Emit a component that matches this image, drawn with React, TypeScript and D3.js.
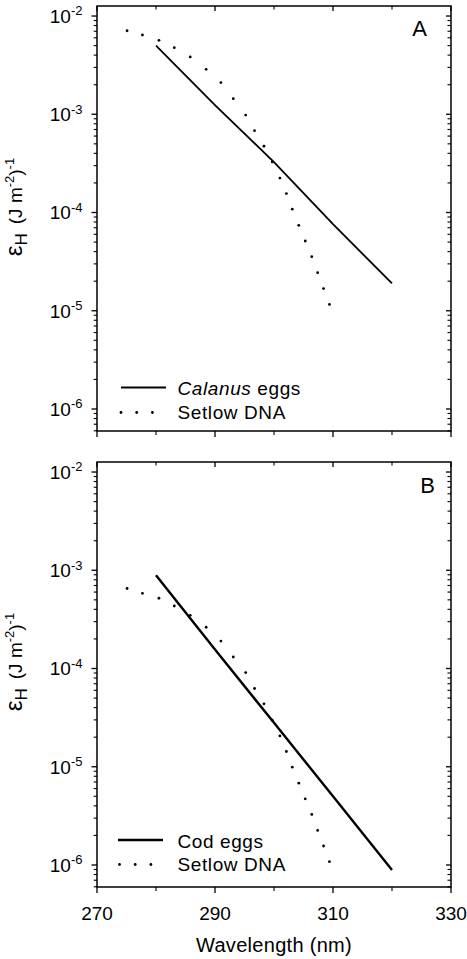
import React from 'react';
import * as d3 from 'd3';

// ---- data ----
const xMajorTicks = [270, 290, 310, 330];
const xMinorTicks = [280, 300, 320];
const yDecadeExps = [-6, -5, -4, -3, -2];

const calanusWl = [280, 290, 300, 310, 320];
const calanusEps = [5.0e-3, 1.24e-3, 3.26e-4, 7.6e-5, 1.9e-5];

const codWl = [280, 290, 300, 310, 320];
const codEps = [8.9e-4, 1.56e-4, 2.8e-5, 5.0e-6, 8.9e-7];

const setlowWl = [275.1, 277.7, 280.5, 283.1, 285.8, 288.5, 291.0, 293.1, 295.2, 296.7, 298.3,
  299.7, 301.0, 302.1, 303.1, 304.2, 305.3, 306.4, 307.4, 308.4, 309.4];
const setlowTopEps = [7.08e-3, 6.41e-3, 5.66e-3, 4.76e-3, 3.83e-3, 2.87e-3, 2.10e-3, 1.44e-3,
  9.82e-4, 6.80e-4, 4.73e-4, 3.27e-4, 2.24e-4, 1.56e-4, 1.08e-4, 7.41e-5, 5.13e-5, 3.55e-5,
  2.44e-5, 1.68e-5, 1.16e-5];
const setlowBottomEps = [6.52e-4, 5.83e-4, 5.19e-4, 4.33e-4, 3.48e-4, 2.63e-4, 1.90e-4, 1.31e-4,
  9.10e-5, 6.26e-5, 4.37e-5, 2.98e-5, 2.06e-5, 1.43e-5, 9.91e-6, 6.81e-6, 4.71e-6, 3.27e-6,
  2.25e-6, 1.56e-6, 1.08e-6];

// ---- layout ----
const W = 467;
const H = 959;
const LEFT = 97;
const RIGHT = 451;
const PANEL_H = 425;
const FONT = 'Liberation Sans, Arial, Helvetica, sans-serif';
const INK = '#000';

const x = d3.scaleLinear().domain([270, 330]).range([LEFT, RIGHT]);

type PanelProps = {
  top: number;
  letter: string;
  letterX: number;
  letterDy: number;
  lineWl: number[];
  lineEps: number[];
  lineWidth: number;
  dotEps: number[];
  legendItalic: string;
  legendRest: string;
  legendY1: number;
  legendY2: number;
  legendLineX: [number, number];
  legendDotsX: number;
  showXLabels: boolean;
  labelCy: number;
};

function Panel(p: PanelProps) {
  const y = d3.scaleLog()
    .domain([Math.pow(10, -6.224), Math.pow(10, -1.898)])
    .range([p.top + PANEL_H, p.top]);
  const [d0, d1] = y.domain();
  const minor: number[] = [];
  for (let e = -7; e <= -2; e++) {
    for (let m = 2; m <= 9; m++) {
      const v = m * Math.pow(10, e);
      if (v >= d0 && v <= d1) minor.push(v);
    }
  }
  const bottom = p.top + PANEL_H;
  const line = d3.line<number>()
    .x((_, i) => x(p.lineWl[i]))
    .y((v) => y(v));
  const pts = p.dotEps.map((v, i) => [x(setlowWl[i]), y(v)]);
  const leg1 = p.top + p.legendY1;
  const leg2 = p.top + p.legendY2;

  return (
    <g>
      {/* frame */}
      <rect x={LEFT} y={p.top} width={RIGHT - LEFT} height={PANEL_H} fill="none" stroke={INK} strokeWidth={1.5} />
      {/* y ticks left (outward) and right (inward) */}
      {yDecadeExps.map((e) => {
        const yy = y(Math.pow(10, e));
        return (
          <g key={'M' + e}>
            <line x1={LEFT - 5.5} x2={LEFT} y1={yy} y2={yy} stroke={INK} strokeWidth={1.3} />
            <line x1={RIGHT - 5} x2={RIGHT} y1={yy} y2={yy} stroke={INK} strokeWidth={1.3} />
            <text x={82.5} y={yy + 6.8} textAnchor="end" fontFamily={FONT} fontSize={19} fill={INK}>
              10<tspan fontSize={13} dy={-7.5}>{String(e)}</tspan>
            </text>
          </g>
        );
      })}
      {minor.map((v, i) => {
        const yy = y(v);
        return (
          <g key={'m' + i}>
            <line x1={LEFT - 3.3} x2={LEFT} y1={yy} y2={yy} stroke={INK} strokeWidth={1.1} />
            <line x1={RIGHT - 3.5} x2={RIGHT} y1={yy} y2={yy} stroke={INK} strokeWidth={1.1} />
          </g>
        );
      })}
      {/* x ticks: top inward, bottom outward */}
      {xMajorTicks.map((t) => (
        <g key={'xM' + t}>
          <line x1={x(t)} x2={x(t)} y1={p.top} y2={p.top + 5} stroke={INK} strokeWidth={1.3} />
          <line x1={x(t)} x2={x(t)} y1={bottom} y2={bottom + 6} stroke={INK} strokeWidth={1.3} />
          {p.showXLabels && (
            <text x={x(t)} y={bottom + 33} textAnchor="middle" fontFamily={FONT} fontSize={19} fill={INK}>
              {t}
            </text>
          )}
        </g>
      ))}
      {xMinorTicks.map((t) => (
        <g key={'xm' + t}>
          <line x1={x(t)} x2={x(t)} y1={p.top} y2={p.top + 3.5} stroke={INK} strokeWidth={1.1} />
          <line x1={x(t)} x2={x(t)} y1={bottom} y2={bottom + 4} stroke={INK} strokeWidth={1.1} />
        </g>
      ))}
      {/* solid series */}
      <path d={line(p.lineEps) || ''} fill="none" stroke={INK} strokeWidth={p.lineWidth} />
      {/* Setlow DNA dotted */}
      {pts.map(([cx, cy], i) => (
        <circle key={'d' + i} cx={cx} cy={cy} r={1.4} fill={INK} />
      ))}
      {/* panel letter */}
      <text x={p.letterX} y={p.top + p.letterDy} fontFamily={FONT} fontSize={22} fill={INK} textAnchor="middle">
        {p.letter}
      </text>
      {/* legend */}
      <line x1={p.legendLineX[0]} x2={p.legendLineX[1]} y1={leg1 - 7.5} y2={leg1 - 7.5} stroke={INK} strokeWidth={p.lineWidth} />
      <text x={177.5} y={leg1} fontFamily={FONT} fontSize={19} letterSpacing={0.6} fill={INK}>
        {p.legendItalic && <tspan fontStyle="italic">{p.legendItalic}</tspan>}
        {p.legendRest}
      </text>
      {[0, 1, 2].map((k) => (
        <circle key={'ld' + k} cx={p.legendDotsX + k * 15.7} cy={leg2 - 6.5} r={1.4} fill={INK} />
      ))}
      <text x={177.5} y={leg2} fontFamily={FONT} fontSize={19} letterSpacing={0.6} fill={INK}>
        Setlow DNA
      </text>
      {/* y axis title */}
      <text
        transform={`translate(22,${p.labelCy}) rotate(-90)`}
        textAnchor="middle"
        fontFamily={FONT}
        fill={INK}
      >
        <tspan fontSize={24}>ε</tspan>
        <tspan fontSize={17} dy={5}>H</tspan>
        <tspan fontSize={19} dy={-5} dx={9}>(J m</tspan>
        <tspan fontSize={13} dy={-8}>-2</tspan>
        <tspan fontSize={19} dy={8}>)</tspan>
        <tspan fontSize={13} dy={-8}>-1</tspan>
      </text>
    </g>
  );
}

export default function App() {
  return (
    <svg
      width={W}
      height={H}
      viewBox={`0 0 ${W} ${H}`}
      style={{ position: 'absolute', left: 0, top: 0, background: '#fff' }}
    >
      <rect x={0} y={0} width={W} height={H} fill="#fff" />
      <Panel
        top={6}
        letter="A"
        letterX={419.5}
        letterDy={30}
        lineWl={calanusWl}
        lineEps={calanusEps}
        lineWidth={1.8}
        dotEps={setlowTopEps}
        legendItalic="Calanus"
        legendRest=" eggs"
        legendY1={389}
        legendY2={413}
        legendLineX={[121, 166]}
        legendDotsX={121}
        showXLabels={false}
        labelCy={207}
      />
      <Panel
        top={462}
        letter="B"
        letterX={427.5}
        letterDy={31.3}
        lineWl={codWl}
        lineEps={codEps}
        lineWidth={2.4}
        dotEps={setlowBottomEps}
        legendItalic=""
        legendRest="Cod eggs"
        legendY1={385.5}
        legendY2={409}
        legendLineX={[118, 163]}
        legendDotsX={119.5}
        showXLabels={true}
        labelCy={662}
      />
      <text x={274} y={952} textAnchor="middle" fontFamily={FONT} fontSize={20} letterSpacing={0.3} fill={INK}>
        Wavelength (nm)
      </text>
    </svg>
  );
}
